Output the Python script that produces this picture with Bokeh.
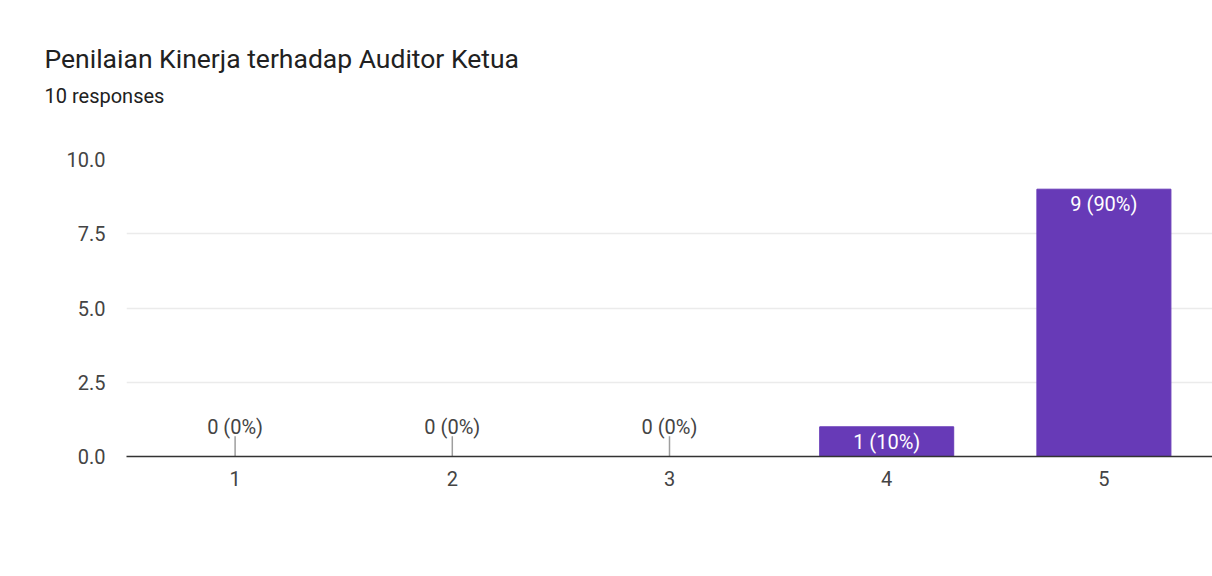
from bokeh.plotting import figure
from bokeh.models import FactorRange, Range1d, Title, FixedTicker, PrintfTickFormatter
from bokeh.core.properties import value
from bokeh.embed import file_html
from bokeh.resources import INLINE

title_text = "Penilaian Kinerja terhadap Auditor Ketua"
subtitle_text = "10 responses"
categories = ["1", "2", "3", "4", "5"]
counts = [0, 0, 0, 1, 9]
percents = [0, 0, 0, 10, 90]
y_ticks = [0, 2.5, 5, 7.5, 10]

FONT = "Roboto"
PURPLE = "#673ab7"
labels = [f"{c} ({p}%)" for c, p in zip(counts, percents)]

p = figure(x_range=FactorRange(factors=categories), y_range=Range1d(0, 10),
           width=1212, height=576, output_backend="svg", toolbar_location=None,
           min_border_left=126, min_border_right=0, min_border_top=159,
           min_border_bottom=120, background_fill_color="white",
           border_fill_color="white", outline_line_color=None)

# spacer between frame and subtitle
p.add_layout(Title(text=" ", text_font=FONT, text_font_size="20px",
                   align="left", offset=-82, standoff=22), "above")
p.add_layout(Title(text=subtitle_text, text_font=FONT, text_font_size="20px",
                   text_font_style="normal", text_color="#212121", align="left",
                   offset=-82, standoff=8), "above")
p.add_layout(Title(text=title_text, text_font=FONT, text_font_size="26.5px",
                   text_font_style="normal", text_color="#212121", align="left",
                   offset=-82, standoff=7), "above")

pos_x = [c for c, v in zip(categories, counts) if v > 0]
pos_v = [v for v in counts if v > 0]
pos_l = [l for l, v in zip(labels, counts) if v > 0]
zero_x = [c for c, v in zip(categories, counts) if v == 0]
zero_l = [l for l, v in zip(labels, counts) if v == 0]

p.vbar(x=categories, top=counts, width=0.617, color=PURPLE, line_color=PURPLE)
p.text(x=pos_x, y=pos_v, text=pos_l, text_color="white", text_font=value(FONT),
       text_font_size="20px", text_align="center", text_baseline="middle", y_offset=15)
p.segment(x0=zero_x, y0=[0] * len(zero_x), x1=zero_x, y1=[0.68] * len(zero_x),
          line_color="#9e9e9e", line_width=1.5)
p.text(x=zero_x, y=[0] * len(zero_x), text=zero_l, text_color="#444444",
       text_font=value(FONT), text_font_size="20px", text_align="center",
       text_baseline="middle", y_offset=-30)

p.xgrid.grid_line_color = None
p.ygrid.grid_line_color = "#ebebeb"
p.ygrid.grid_line_width = 1.5
p.yaxis.ticker = FixedTicker(ticks=y_ticks)
p.yaxis.formatter = PrintfTickFormatter(format="%.1f")
p.yaxis.axis_line_color = None
p.yaxis.major_tick_line_color = None
p.yaxis.minor_tick_line_color = None
p.yaxis.major_label_standoff = 15
p.yaxis.major_label_text_font = FONT
p.yaxis.major_label_text_font_size = "20px"
p.yaxis.major_label_text_color = "#444444"

p.xaxis.axis_line_color = "#333333"
p.xaxis.axis_line_width = 1.5
p.xaxis.major_tick_line_color = None
p.xaxis.minor_tick_line_color = None
p.xaxis.major_label_standoff = 8
p.xaxis.major_label_text_font = FONT
p.xaxis.major_label_text_font_size = "20px"
p.xaxis.major_label_text_color = "#444444"

open("out.html", "w").write(file_html(p, INLINE))
